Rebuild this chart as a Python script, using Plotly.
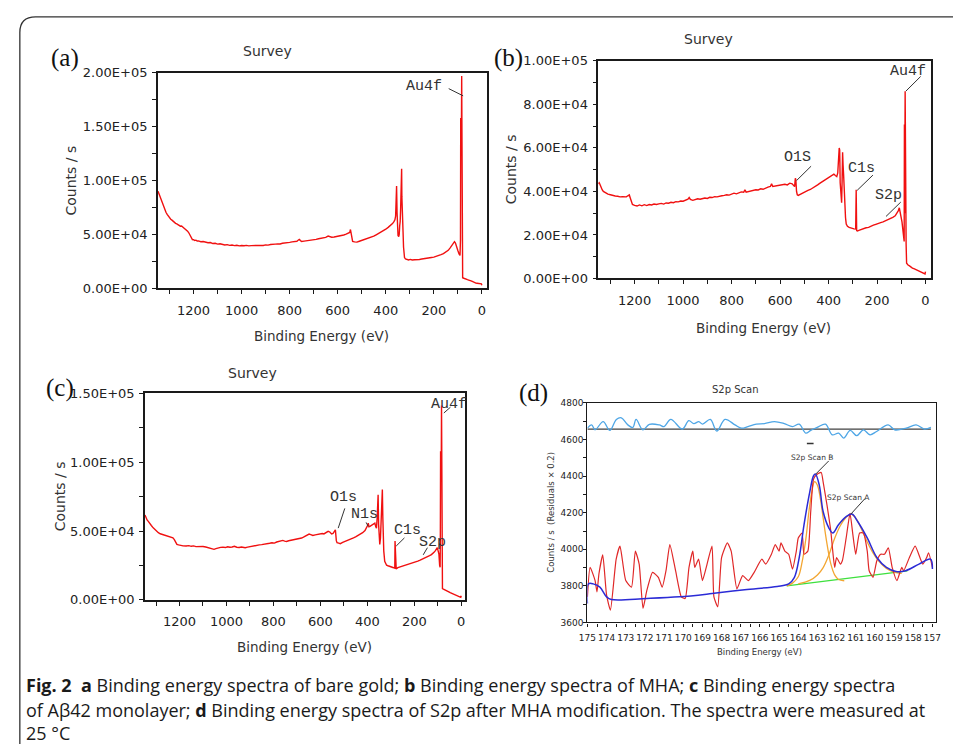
import plotly.graph_objects as go

W, H = 958, 752

# ---------------- data ----------------
# (a) bare gold survey
a_ev = [1348, 1344, 1340, 1335, 1330, 1325, 1320, 1315, 1310, 1305, 1300, 1295, 1290, 1285, 1280, 1275, 1270, 1265, 1260, 1255,
        1250, 1245, 1240, 1235, 1230, 1225, 1220, 1215, 1210, 1205, 1200, 1195, 1190, 1185, 1180, 1170, 1160, 1150, 1140, 1130,
        1120, 1110, 1100, 1090, 1080, 1070, 1060, 1050, 1040, 1030, 1020, 1010, 1000, 990, 980, 970, 960, 950, 940, 930,
        920, 910, 900, 890, 880, 870, 860, 850, 840, 830, 820, 810, 800, 790, 780, 770, 765, 760, 755, 750,
        740, 730, 720, 710, 700, 690, 680, 670, 660, 650, 640, 635, 625, 615, 605, 595, 585, 575, 565, 555,
        550, 547, 545, 542, 538, 530, 520, 510, 500, 490, 480, 470, 460, 450, 440, 430, 420, 410, 400, 390,
        380, 372, 366, 362, 359, 357, 355, 353, 351, 349, 346, 344, 342, 340, 338, 336, 334, 333, 332, 330,
        328, 326, 324, 322, 318, 312, 305, 298, 290, 280, 270, 260, 250, 240, 230, 220, 210, 200, 190, 180,
        170, 160, 150, 140, 132, 124, 118, 114, 110, 106, 100, 95, 91, 89, 88, 87, 85, 84, 83, 82,
        80, 75, 70, 65, 60, 55, 50, 45, 40, 35, 30, 25, 20, 15, 10, 5, 2, 0]
a_cts = [90000, 87500, 85000, 81500, 79000, 76500, 73000, 70500, 68500, 66800, 65500, 64000, 63200, 62000, 61500, 60200, 59800, 58800, 58200, 57600,
         57800, 57000, 56200, 55000, 54200, 53000, 51500, 49000, 46500, 45200, 45000, 44300, 44600, 43800, 43900, 43200, 43400, 42600, 42300, 42400,
         41500, 41700, 41000, 41300, 40600, 40200, 40500, 39800, 40100, 39600, 39900, 39300, 39700, 39400, 39800, 39300, 39600, 39500, 39900, 39400,
         39800, 39700, 40200, 40000, 40600, 40500, 41000, 41200, 41100, 41800, 41900, 42500, 42600, 43000, 43300, 43600, 44500, 45300, 44200, 43400,
         43700, 43900, 44400, 44800, 45000, 45400, 45900, 46300, 46800, 47200, 48400, 48000, 47300, 47600, 47900, 48500, 48800, 49400, 50200, 51200,
         51800, 54500, 52000, 46000, 43500, 43000, 42800, 43600, 44300, 44900, 45800, 46600, 47400, 48300, 49600, 50800, 52000, 53300, 54800, 56500,
         58300, 60000, 61800, 63500, 67000, 80000, 94800, 70000, 56000, 49000, 48000, 50000, 58000, 62000, 75000, 97000, 110900, 85000, 70000, 69700,
         52000, 38000, 31000, 28500, 27300, 26600, 26300, 26800, 26200, 26500, 26300, 26700, 27100, 27300, 27800, 28200, 28500, 28900, 29500, 30300,
         31200, 32100, 33300, 35200, 37500, 39800, 41500, 43200, 42000, 38500, 35000, 31800, 30500, 45000, 158000, 100000, 150000, 197000, 60000, 11000,
         9800, 9300, 8600, 8300, 8000, 7600, 7400, 6800, 6300, 5700, 5200, 4800, 4700, 4500, 4400, 4300, 4100, 2800]

# (b) MHA survey
b_ev = [1350, 1346, 1342, 1338, 1334, 1329, 1320, 1310, 1300, 1290, 1280, 1270, 1260, 1250, 1240, 1234, 1228, 1222, 1218, 1214,
        1209, 1200, 1190, 1180, 1170, 1160, 1150, 1140, 1130, 1120, 1110, 1100, 1090, 1080, 1070, 1060, 1050, 1040, 1030, 1020,
        1010, 1000, 990, 980, 975, 970, 960, 950, 940, 930, 920, 910, 900, 890, 880, 870, 860, 850, 840, 830,
        820, 810, 800, 790, 780, 770, 760, 750, 745, 740, 730, 720, 710, 700, 690, 680, 670, 660, 650, 640,
        635, 630, 620, 610, 600, 590, 580, 570, 560, 550, 545, 540, 537, 535, 532, 529, 525, 515, 505, 495,
        485, 475, 465, 455, 445, 435, 425, 415, 405, 395, 385, 378, 372, 366, 362, 359, 356, 354, 352, 350,
        348, 346, 344, 342, 340, 338, 336, 333, 330, 327, 322, 315, 305, 295, 288, 286, 284, 281, 275, 265,
        255, 245, 235, 225, 215, 205, 195, 185, 175, 165, 155, 145, 135, 125, 118, 112, 108, 105, 102, 97,
        93, 90, 88, 87, 86, 85, 84, 83, 82, 80, 78, 76, 72, 66, 60, 54, 48, 42, 36, 30,
        24, 18, 12, 6, 2, 0]
b_cts = [43500, 44000, 43000, 41500, 40800, 40000, 39300, 38800, 38500, 38100, 37900, 37800, 37500, 37600, 37400, 37500, 38000, 38400, 37000, 35000,
         34000, 33600, 33300, 33800, 33400, 33900, 33500, 34000, 33800, 34200, 34000, 34300, 34500, 34200, 34700, 34600, 35000, 34800, 35300, 35200,
         35600, 35500, 35900, 36500, 37200, 36300, 35900, 36200, 36600, 36400, 36800, 37000, 36800, 37300, 37200, 37600, 37500, 37900, 38000, 38200,
         38500, 38300, 38800, 39200, 38900, 39500, 39800, 39600, 40800, 39700, 40000, 40300, 40500, 40800, 40700, 41200, 41000, 41600, 42000, 42300,
         43500, 42300, 42500, 42800, 42700, 43100, 43300, 43000, 43800, 43500, 42500, 42200, 46000, 45500, 40000, 38500, 38200, 38800, 39500, 40200,
         40500, 40900, 41500, 42300, 43000, 43800, 44600, 45400, 46200, 46900, 47600, 48000, 47300, 46800, 48500, 53000, 60000, 59000, 44000, 38000,
         36000, 34800, 45000, 58000, 52000, 48000, 42000, 39000, 28000, 25000, 24000, 23500, 23000, 22800, 22700, 40800, 22000, 21800, 22100, 22600,
         22900, 23300, 23500, 24100, 24500, 24900, 25400, 25700, 26000, 26500, 26900, 27400, 28100, 28800, 29800, 31200, 32500, 31000, 29500, 26000,
         22000, 19800, 17000, 70800, 30000, 60000, 86000, 40000, 17000, 16000, 7000, 6500, 6200, 5800, 5200, 4800, 4500, 4200, 3900, 3500,
         3300, 3100, 2800, 2500, 2100, 3200]

# (c) Abeta42 monolayer survey
c_ev = [1347, 1343, 1338, 1332, 1326, 1320, 1312, 1305, 1298, 1290, 1282, 1275, 1268, 1260, 1252, 1244, 1236, 1228, 1222, 1216,
        1211, 1204, 1195, 1185, 1172, 1160, 1150, 1140, 1130, 1120, 1110, 1100, 1088, 1078, 1068, 1060, 1053, 1045, 1035, 1025,
        1015, 1005, 995, 985, 976, 966, 956, 946, 936, 926, 920, 910, 900, 890, 880, 870, 860, 850, 836, 826,
        816, 806, 796, 786, 776, 766, 760, 752, 744, 735, 727, 718, 708, 697, 688, 680, 672, 664, 655, 648,
        641, 632, 622, 613, 603, 592, 585, 575, 567, 560, 552, 546, 540, 536, 532, 529, 522, 515, 505, 495,
        485, 475, 466, 459, 450, 440, 430, 420, 410, 403, 399, 396, 393, 389, 382, 376, 371, 368, 364, 361,
        358, 356, 354, 352, 350, 347, 344, 341, 338, 336, 334, 332, 330, 326, 322, 318, 312, 305, 298, 291,
        286, 283, 282, 280, 277, 270, 262, 254, 246, 238, 230, 221, 213, 205, 195, 185, 175, 165, 155, 145,
        135, 127, 122, 116, 110, 106, 102, 99, 95, 92, 90, 89, 88, 87, 85, 84, 83, 82, 80, 76,
        70, 64, 58, 53, 47, 41, 35, 30, 25, 20, 15, 10, 5, 2, 0]
c_cts = [61600, 59500, 58000, 56800, 55700, 54000, 52300, 51000, 49800, 48800, 48000, 47600, 47200, 46900, 46200, 45600, 45300, 45000, 43800, 41500,
         40300, 39900, 39500, 39200, 39100, 39400, 38900, 39200, 38700, 38900, 38600, 38800, 38400, 38000, 37300, 36900, 36700, 37200, 37800, 38100,
         38300, 38000, 38600, 38200, 38400, 38900, 38200, 38000, 38400, 38100, 37900, 38300, 38700, 39000, 39300, 39600, 39900, 40100, 40300, 40800,
         41100, 41500, 41200, 42000, 42300, 42500, 43200, 42700, 42400, 42900, 43200, 43500, 43700, 43800, 44400, 44900, 45500, 46200, 46800, 47800,
         47400, 46800, 47200, 47500, 47900, 48200, 47900, 48800, 49800, 49300, 47900, 48300, 50500, 50800, 43000, 41500, 41200, 40800, 41700, 42300,
         43000, 43800, 44500, 45000, 45800, 46700, 47700, 48800, 50300, 52100, 54000, 55700, 53000, 53300, 54200, 55000, 55800, 55700, 53000, 52100,
         60000, 70000, 76300, 55000, 42000, 40300, 45000, 60000, 75000, 80100, 60000, 42000, 35600, 28000, 26100, 25200, 24800, 24200, 23900, 23500,
         23200, 23000, 42700, 22800, 22500, 23400, 23800, 24300, 24800, 25300, 25700, 26100, 26700, 27200, 27600, 28200, 28900, 29600, 30300, 31200,
         32100, 32900, 33400, 34500, 35800, 37000, 37900, 36000, 33200, 25000, 23700, 45000, 107800, 60000, 100000, 141000, 90000, 30000, 8300, 7900,
         7500, 7000, 6400, 5900, 5300, 4800, 4400, 4100, 3600, 3400, 3100, 2700, 2300, 1900, 3000]

# (d) S2p high-resolution scan
d_raw_ev = [175.0, 174.86, 174.6, 174.5, 174.4, 174.2, 174.0, 173.8, 173.5, 173.3, 173.0, 172.7, 172.5, 172.3, 172.1, 171.9, 171.6, 171.3, 171.1, 170.9,
            170.7, 170.4, 170.1, 169.9, 169.7, 169.5, 169.4, 169.2, 169.0, 168.8, 168.5, 168.4, 168.2, 168.0, 167.7, 167.5, 167.2, 166.9, 166.6, 166.3,
            165.9, 165.7, 165.4, 165.2, 165.0, 164.9, 164.7, 164.5, 164.3, 164.1, 164.0, 163.8, 163.7, 163.5, 163.35, 163.2, 163.0, 162.8, 162.7, 162.5,
            162.3, 162.2, 162.1, 162.0, 161.8, 161.7, 161.5, 161.3, 161.15, 161.0, 160.8, 160.6, 160.4, 160.3, 160.1, 159.9, 159.7, 159.5, 159.3, 159.1,
            158.85, 158.6, 158.5, 158.2, 157.9, 157.5, 157.3, 157.2, 157.0]
d_raw_cts = [3740, 3901, 3829, 3767, 3865, 3969, 3749, 3668, 3946, 4017, 3829, 3793, 3990, 3919, 3677, 3775, 3874, 3847, 3793, 3883,
             4026, 3883, 3740, 3731, 3901, 3990, 3901, 3946, 3829, 3901, 4017, 3740, 3686, 3955, 4035, 3990, 3784, 3856, 3829, 3874,
             3946, 3919, 3973, 4026, 3990, 4035, 3990, 3973, 3892, 3990, 4062, 4089, 3973, 3990, 4205, 4384, 4411, 4420, 4367, 4241,
             4098, 3990, 3901, 3955, 3919, 3937, 4062, 4196, 4080, 3973, 4089, 4089, 3990, 3883, 3847, 3937, 3973, 3973, 4008, 3901,
             3829, 3901, 3883, 3955, 4017, 3919, 3955, 3981, 3901]

d_fit_ev = [175.0, 174.95, 174.7, 174.35, 174.0, 173.75, 171.9, 170.2, 168.5, 166.8, 165.1, 164.5, 164.2, 163.95, 163.7, 163.4, 163.2, 163.1, 162.9, 162.7,
            162.4, 162.2, 161.9, 161.5, 161.2, 160.9, 160.4, 159.9, 159.4, 158.9, 158.4, 157.7, 157.1, 157.0]
d_fit_cts = [3704, 3811, 3811, 3793, 3740, 3725, 3731, 3740, 3758, 3779, 3797, 3811, 3847, 3955, 4134, 4313, 4402, 4411, 4349, 4205,
             4116, 4089, 4134, 4178, 4193, 4152, 4062, 3955, 3901, 3879, 3883, 3919, 3946, 3892]

d_peakB_ev = [164.6, 164.3, 164.0, 163.8, 163.6, 163.45, 163.3, 163.15, 163.0, 162.85, 162.7, 162.5, 162.3, 162.1, 161.9, 161.6]
d_peakB_cts = [3800, 3815, 3850, 3930, 4060, 4200, 4310, 4370, 4350, 4280, 4170, 4030, 3920, 3860, 3835, 3828]

d_peakA_ev = [164.0, 163.4, 163.0, 162.7, 162.4, 162.1, 161.8, 161.5, 161.25, 161.0, 160.7, 160.4, 160.1, 159.8, 159.4, 159.0, 158.6]
d_peakA_cts = [3811, 3830, 3860, 3900, 3970, 4060, 4130, 4175, 4193, 4170, 4110, 4040, 3980, 3935, 3895, 3875, 3868]

d_bg_ev = [164.6, 158.3]
d_bg_cts = [3800, 3882]

d_res_ev = [175.0, 174.78, 174.6, 174.18, 173.83, 173.49, 173.23, 172.89, 172.63, 172.46, 172.11, 171.77, 171.25, 171.0, 170.65, 170.05, 169.71, 169.45, 169.19, 168.99,
            168.59, 168.25, 167.82, 167.3, 166.96, 166.62, 166.19, 165.76, 165.24, 164.73, 164.3, 163.95, 163.61, 163.35, 163.01, 162.58, 162.23, 161.89, 161.63, 161.29,
            160.95, 160.6, 160.26, 159.91, 159.31, 158.97, 158.37, 157.85, 157.42, 157.08]
d_res_cts = [4662, 4680, 4653, 4698, 4650, 4710, 4719, 4680, 4666, 4710, 4653, 4683, 4680, 4671, 4710, 4657, 4703, 4687, 4698, 4684,
             4710, 4646, 4710, 4680, 4662, 4671, 4684, 4687, 4698, 4687, 4671, 4684, 4635, 4650, 4666, 4684, 4626, 4635, 4608, 4650,
             4621, 4653, 4626, 4644, 4680, 4653, 4662, 4680, 4657, 4666]
d_res_zero = 4657

# tick labels
a_ytick_vals = [0, 50000, 100000, 150000, 200000]
a_ytick_text = ["0.00E+00", "5.00E+04", "1.00E+05", "1.50E+05", "2.00E+05"]
b_ytick_vals = [0, 20000, 40000, 60000, 80000, 100000]
b_ytick_text = ["0.00E+00", "2.00E+04", "4.00E+04", "6.00E+04", "8.00E+04", "1.00E+05"]
c_ytick_vals = [0, 50000, 100000, 150000]
c_ytick_text = ["0.00E+00", "5.00E+04", "1.00E+05", "1.50E+05"]

# ---------------- figure ----------------
RED = "#f01010"
AXC = "#1a1a1a"

def px(x):
    return x / W

def py(y):
    return 1 - y / H

fig = go.Figure()
fig.add_trace(go.Scatter(x=a_ev, y=a_cts, xaxis="x", yaxis="y", mode="lines", line=dict(color=RED, width=1.4)))
fig.add_trace(go.Scatter(x=b_ev, y=b_cts, xaxis="x2", yaxis="y2", mode="lines", line=dict(color=RED, width=1.4)))
fig.add_trace(go.Scatter(x=c_ev, y=c_cts, xaxis="x3", yaxis="y3", mode="lines", line=dict(color=RED, width=1.4)))

fig.add_trace(go.Scatter(x=[d_res_ev[0], d_res_ev[-1]], y=[d_res_zero, d_res_zero], xaxis="x4", yaxis="y4",
                         mode="lines", line=dict(color="#404040", width=1.3)))
fig.add_trace(go.Scatter(x=d_res_ev, y=d_res_cts, xaxis="x4", yaxis="y4", mode="lines",
                         line=dict(color="#4ea6e6", width=1.3, shape="spline")))
fig.add_trace(go.Scatter(x=d_bg_ev, y=d_bg_cts, xaxis="x4", yaxis="y4", mode="lines", line=dict(color="#3ee03e", width=1.4)))
fig.add_trace(go.Scatter(x=d_peakA_ev, y=d_peakA_cts, xaxis="x4", yaxis="y4", mode="lines",
                         line=dict(color="#f3a632", width=1.3, shape="spline")))
fig.add_trace(go.Scatter(x=d_peakB_ev, y=d_peakB_cts, xaxis="x4", yaxis="y4", mode="lines",
                         line=dict(color="#f3a632", width=1.3, shape="spline")))
fig.add_trace(go.Scatter(x=d_raw_ev, y=d_raw_cts, xaxis="x4", yaxis="y4", mode="lines",
                         line=dict(color="#e02828", width=1.2, shape="spline", smoothing=0.5)))
fig.add_trace(go.Scatter(x=d_fit_ev, y=d_fit_cts, xaxis="x4", yaxis="y4", mode="lines",
                         line=dict(color="#2b2bd6", width=1.5, shape="spline")))

tickfont = dict(family="DejaVu Sans", size=13, color="#222")
tickfont_d = dict(family="DejaVu Sans", size=9, color="#222")

def xax(domain, rng, anchor):
    return dict(domain=domain, range=rng, anchor=anchor, tick0=0, dtick=200, ticks="outside", ticklen=4,
                tickwidth=1.3, tickcolor=AXC, showline=True, mirror=True, linecolor=AXC, linewidth=1.5,
                showgrid=False, zeroline=False, tickfont=tickfont, ticklabelstandoff=5, tickangle=0,
                minor=dict(dtick=100, tick0=0, ticks="outside", ticklen=4, tickwidth=1.3, tickcolor=AXC, showgrid=False))

def yax(domain, rng, anchor, vals, text, minor_dt):
    return dict(domain=domain, range=rng, anchor=anchor, tickmode="array", tickvals=vals, ticktext=text,
                ticks="outside", ticklen=4, tickwidth=1.3, tickcolor=AXC, showline=True, mirror=True,
                linecolor=AXC, linewidth=1.5, showgrid=False, zeroline=False, tickfont=tickfont, ticklabelstandoff=2,
                minor=dict(dtick=minor_dt, tick0=0, ticks="outside", ticklen=4, tickwidth=1.3, tickcolor=AXC, showgrid=False))

def x_in(over, rng, anchor, dt, mdt, t0=0):
    # inside ticks on an overlaid axis, so each tick crosses the axis line
    return dict(overlaying=over, range=rng, anchor=anchor, side="bottom", tick0=t0, dtick=dt, ticks="inside",
                ticklen=4, tickwidth=1.3, tickcolor=AXC, showticklabels=False, showline=False, showgrid=False,
                zeroline=False,
                minor=dict(dtick=mdt, tick0=t0, ticks="inside", ticklen=4, tickwidth=1.3, tickcolor=AXC, showgrid=False))

def y_in(over, rng, anchor, dt, mdt, t0=0):
    return dict(overlaying=over, range=rng, anchor=anchor, side="left", tick0=t0, dtick=dt, ticks="inside",
                ticklen=4, tickwidth=1.3, tickcolor=AXC, showticklabels=False, showline=False, showgrid=False,
                zeroline=False,
                minor=dict(dtick=mdt, tick0=t0, ticks="inside", ticklen=4, tickwidth=1.3, tickcolor=AXC, showgrid=False))

layout = dict(
    width=W, height=H, margin=dict(l=0, r=0, t=0, b=0), paper_bgcolor="white", plot_bgcolor="white",
    showlegend=False,
    xaxis=xax([px(151), px(485)], [1349, -21], "y"),
    yaxis=yax([py(287), py(67)], [0, 200000], "x", a_ytick_vals, a_ytick_text, 25000),
    xaxis2=xax([px(598), px(936)], [1350, -24], "y2"),
    yaxis2=yax([py(277), py(55)], [0, 100000], "x2", b_ytick_vals, b_ytick_text, 10000),
    xaxis3=xax([px(138), px(463)], [1347, -17], "y3"),
    yaxis3=yax([py(605), py(394)], [0, 150000], "x3", c_ytick_vals, c_ytick_text, 25000),
    xaxis4=dict(domain=[px(587), px(941)], range=[175.0, 156.8], anchor="y4", tick0=157, dtick=1, ticks="outside",
                ticklen=3, tickwidth=1.2, tickcolor=AXC, showline=True, mirror=True, linecolor=AXC, linewidth=1.4,
                showgrid=False, zeroline=False, tickfont=tickfont_d, ticklabelstandoff=4, tickangle=0,
                minor=dict(dtick=0.5, tick0=157, ticks="outside", ticklen=3, tickwidth=1.2, tickcolor=AXC, showgrid=False)),
    yaxis4=dict(domain=[py(628), py(404)], range=[3600, 4800], anchor="x4", tick0=3600, dtick=200, ticks="outside",
                ticklen=3, tickwidth=1.2, tickcolor=AXC, showline=True, mirror=True, linecolor=AXC, linewidth=1.4,
                showgrid=False, zeroline=False, tickfont=tickfont_d, ticklabelstandoff=-2,
                minor=dict(dtick=100, tick0=3600, ticks="outside", ticklen=3, tickwidth=1.2, tickcolor=AXC, showgrid=False)),
    xaxis5=x_in("x", [1349, -21], "y", 200, 100),
    yaxis5=y_in("y", [0, 200000], "x", 50000, 25000),
    xaxis6=x_in("x2", [1350, -24], "y2", 200, 100),
    yaxis6=y_in("y2", [0, 100000], "x2", 20000, 10000),
    xaxis7=x_in("x3", [1347, -17], "y3", 200, 100),
    yaxis7=y_in("y3", [0, 150000], "x3", 50000, 25000),
    xaxis8=x_in("x4", [175.0, 156.8], "y4", 1, 0.5, 157),
    yaxis8=y_in("y4", [3600, 4800], "x4", 200, 100, 3600),
)
fig.update_layout(**layout)

ann = []

def ptxt(x, y, text, size, family="DejaVu Sans", color="#333", angle=0, xanchor="center"):
    ann.append(dict(x=px(x), y=py(y), xref="paper", yref="paper", text=text, showarrow=False, textangle=angle,
                    xanchor=xanchor, yanchor="middle", font=dict(family=family, size=size, color=color)))

# panel titles & letters
ptxt(262, 45, "Survey", 14)
ptxt(710, 33, "Survey", 14)
ptxt(247, 373, "Survey", 14)
ptxt(737, 390, "S2p Scan", 10)
ptxt(57, 52, "(a)", 25, "Liberation Serif", "#111")
ptxt(507, 52, "(b)", 25, "Liberation Serif", "#111")
ptxt(52, 389, "(c)", 25, "Liberation Serif", "#111")
ptxt(532, 394, "(d)", 25, "Liberation Serif", "#111")
# axis titles
ptxt(63, 177, "Counts / s", 14, angle=-90)
ptxt(509, 166, "Counts / s", 14, angle=-90)
ptxt(52, 499, "Counts / s", 14, angle=-90)
ptxt(550, 515, "Counts / s  (Residuals × 0.2)", 8.5, angle=-90)
ptxt(317, 336, "Binding Energy (eV)", 13.5)
ptxt(766, 328, "Binding Energy (eV)", 13.5)
ptxt(300, 653, "Binding Energy (eV)", 13.5)
ptxt(762, 658, "Binding Energy (eV)", 8.5)

# peak labels in data coordinates
def dtxt(xr, yr, x, y, text, size=15, family="Liberation Mono"):
    ann.append(dict(x=x, y=y, xref=xr, yref=yr, text=text, showarrow=False, xanchor="center", yanchor="middle",
                    font=dict(family=family, size=size, color="#333")))

dtxt("x", "y", 241, 187300, "Au4f")
dtxt("x2", "y2", 529, 55800, "O1S")
dtxt("x2", "y2", 264, 50500, "C1s")
dtxt("x2", "y2", 152, 38100, "S2p")
dtxt("x2", "y2", 72, 95100, "Au4f")
dtxt("x3", "y3", 501, 74200, "O1s")
dtxt("x3", "y3", 410, 62300, "N1s")
dtxt("x3", "y3", 231, 50500, "C1s")
dtxt("x3", "y3", 123, 41500, "S2p")
dtxt("x3", "y3", 53, 142000, "Au4f")
dtxt("x4", "y4", 163.26, 4501, "S2p Scan B", 7.5, "DejaVu Sans")
dtxt("x4", "y4", 161.37, 4282, "S2p Scan A", 7.5, "DejaVu Sans")

shapes = []

def lead(xr, yr, x0, y0, x1, y1):
    shapes.append(dict(type="line", xref=xr, yref=yr, x0=x0, y0=y0, x1=x1, y1=y1,
                       line=dict(color="#333", width=1)))

lead("x", "y", 138, 185200, 78, 178500)
lead("x2", "y2", 472, 51600, 532, 45000)
lead("x2", "y2", 217, 47500, 282, 40500)
lead("x2", "y2", 102, 35100, 163, 28500)
lead("x2", "y2", 20, 92850, 81, 86100)
lead("x3", "y3", 496, 66400, 524, 52100)
lead("x3", "y3", 405, 56200, 396, 53300)
lead("x3", "y3", 242, 45000, 277, 39100)
lead("x3", "y3", 144, 37900, 162, 32700)
lead("x3", "y3", 46, 139800, 74, 135600)
lead("x4", "y4", 162.41, 4483, 163.09, 4411)
lead("x4", "y4", 160.52, 4277, 161.25, 4193)
shapes.append(dict(type="line", xref="x4", yref="y4", x0=163.55, x1=163.2, y0=4578, y1=4578,
                   line=dict(color="#333", width=1.5)))

# rounded frame
shapes.append(dict(type="path", xref="paper", yref="paper",
                   path=f"M {px(11)},{py(752)} L {px(11)},{py(26)} Q {px(11)},{py(10)} {px(27)},{py(10)} L {px(958)},{py(10)}",
                   line=dict(color="#333", width=1.3)))

# caption
cap_font = "Open Sans"
cap_lines = [
    "<b>Fig. 2</b>  <b>a</b> Binding energy spectra of bare gold; <b>b</b> Binding energy spectra of MHA; <b>c</b> Binding energy spectra",
    "of Aβ42 monolayer; <b>d</b> Binding energy spectra of S2p after MHA modification. The spectra were measured at",
    "25 °C",
]
for i, (ln, yy) in enumerate(zip(cap_lines, [692, 717, 741])):
    ann.append(dict(x=px(15), y=py(yy), xref="paper", yref="paper", text=ln, showarrow=False, xanchor="left",
                    yanchor="middle", font=dict(family=cap_font, size=18, color="#1a1a1a")))

fig.update_layout(annotations=ann, shapes=shapes)

fig.write_html("out.html", config={"displayModeBar": False},
               post_script="document.body.style.margin='0';document.body.style.overflow='hidden';")
